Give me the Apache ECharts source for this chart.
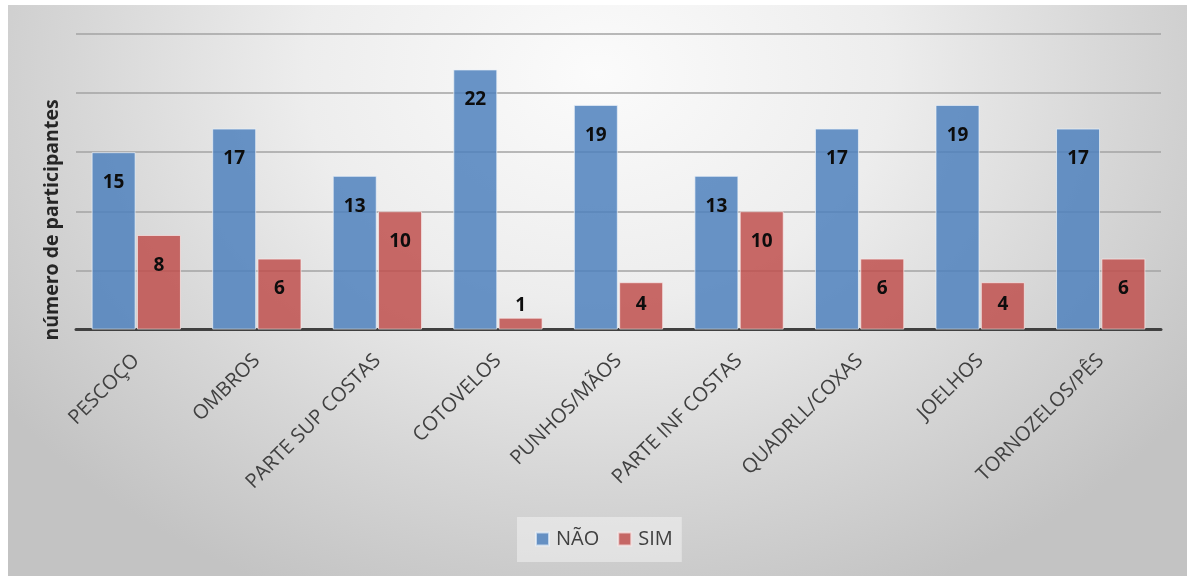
<!DOCTYPE html>
<html>
<head>
<meta charset="utf-8">
<script src="https://cdn.jsdelivr.net/npm/echarts@6/dist/echarts.min.js"></script>
<style>
  html, body { margin: 0; padding: 0; background: #ffffff; }
  #chart {
    position: absolute; left: 8px; top: 5px; width: 1179px; height: 571px;
    background: radial-gradient(ellipse 62% 100% at 50% 12%, #fbfbfb 0%, #ededed 40%, #d6d6d6 72%, #c3c3c3 100%);
  }
</style>
</head>
<body>
<div id="chart"></div>
<script>
// Regiões do corpo e número de participantes por resposta
const categories = ['PESCOÇO', 'OMBROS', 'PARTE SUP COSTAS', 'COTOVELOS', 'PUNHOS/MÃOS',
  'PARTE INF COSTAS', 'QUADRLL/COXAS', 'JOELHOS', 'TORNOZELOS/PÊS'];
const naoValues = [15, 17, 13, 22, 19, 13, 17, 19, 17];
const simValues = [8, 6, 10, 1, 4, 10, 6, 4, 6];
const seriesNames = ['NÃO', 'SIM'];
const yTitle = 'número de participantes';

const FONT = '"Open Sans", "Noto Sans", sans-serif';

// value labels sit inside the top of the bar; very short bars get them above
function withLabels(values) {
  return values.map(v => {
    let label;
    if (v <= 1) label = { position: 'top', distance: 3 };
    else if (v <= 4) label = { position: 'insideTop', distance: 13 };
    else label = { position: 'insideTop', distance: 21 };
    return { value: v, label };
  });
}

const labelStyle = {
  show: true,
  color: '#0d0d0d',
  fontFamily: FONT,
  fontWeight: 'bold',
  fontSize: 19
};

const chart = echarts.init(document.getElementById('chart'), null, { renderer: 'canvas' });
chart.setOption({
  backgroundColor: 'transparent',
  animation: false,
  grid: { left: 68, right: 26, top: 29, bottom: 246.5, containLabel: false },
  legend: {
    data: seriesNames,
    left: 509, top: 512,
    orient: 'horizontal',
    icon: 'rect',
    itemWidth: 13, itemHeight: 13, itemGap: 18,
    padding: [12, 9, 13, 18],
    backgroundColor: 'rgba(242,242,242,0.55)',
    textStyle: { color: '#404040', fontFamily: FONT, fontSize: 20, padding: [0, 0, 0, 2] }
  },
  xAxis: {
    type: 'category',
    data: categories,
    axisTick: { show: false },
    axisLine: { lineStyle: { color: '#404040', width: 3 } },
    axisLabel: {
      interval: 0,
      rotate: 45,
      margin: 28,
      color: '#404040',
      fontFamily: FONT,
      fontSize: 20
    }
  },
  yAxis: {
    type: 'value',
    min: 0, max: 25, interval: 5,
    axisLine: { show: false },
    axisTick: { show: false },
    axisLabel: { show: false },
    splitLine: { lineStyle: { color: '#a3a3a3', width: 1.5 } }
  },
  graphic: [{
    type: 'text',
    x: 44, y: 215,
    rotation: Math.PI / 2,
    style: {
      text: yTitle,
      fill: '#262626',
      font: 'bold 19.5px ' + FONT,
      textAlign: 'center',
      textVerticalAlign: 'middle'
    }
  }],
  series: [
    {
      name: seriesNames[0],
      type: 'bar',
      data: withLabels(naoValues),
      barWidth: 44,
      barGap: '3%',
      itemStyle: { color: 'rgba(79,129,189,0.85)', borderColor: 'rgba(235,242,250,0.7)', borderWidth: 1 },
      label: labelStyle
    },
    {
      name: seriesNames[1],
      type: 'bar',
      data: withLabels(simValues),
      barWidth: 44,
      itemStyle: { color: 'rgba(192,80,77,0.85)', borderColor: 'rgba(250,235,235,0.7)', borderWidth: 1 },
      label: labelStyle
    }
  ]
});
</script>
</body>
</html>
